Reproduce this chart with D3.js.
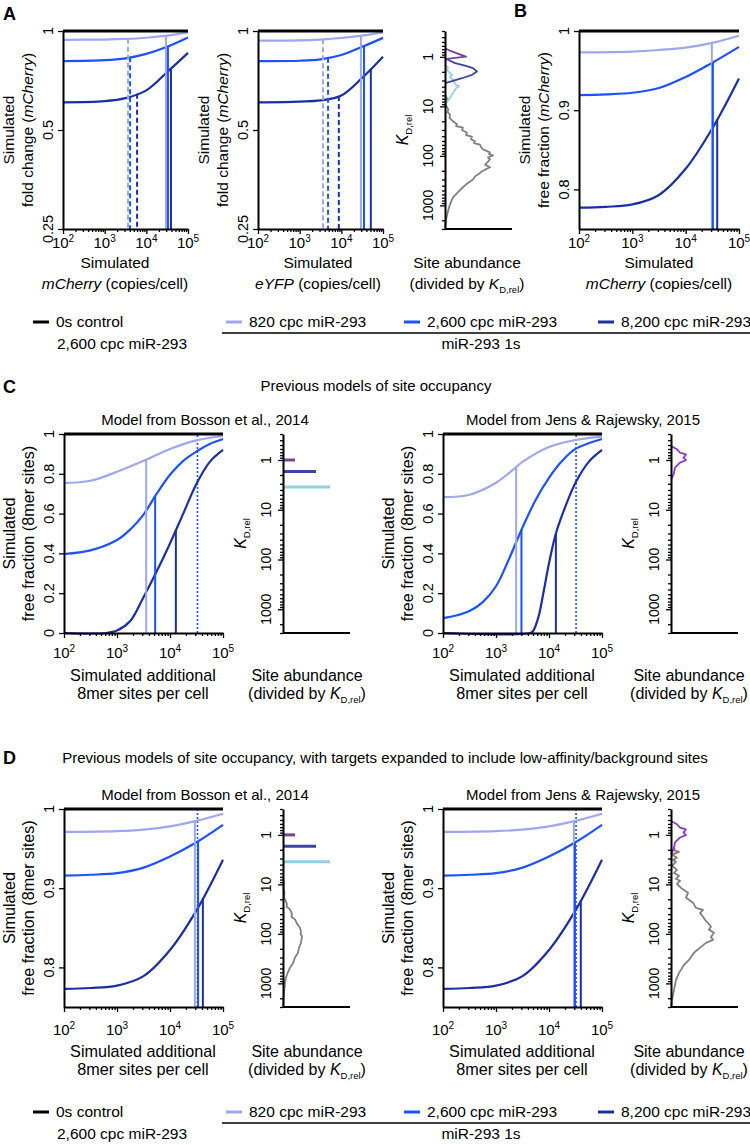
<!DOCTYPE html>
<html><head><meta charset="utf-8">
<script src="https://cdn.jsdelivr.net/npm/d3@7"></script>
<style>body{margin:0;background:#fff}svg{display:block}</style>
</head><body>
<script>
// ---------------- DATA ----------------
// x ticks (copies per cell) and their exponent labels
const X_TICKS = [1e2, 1e3, 1e4, 1e5];
const X_TICK_EXP = ["2", "3", "4", "5"];
const KD_TICKS = [1, 10, 100, 1000];
const KD_TICK_LABELS = ["1", "10", "100", "1000"];
const KD_DOMAIN = [0.3, 3000];
const FOLD_TICKS = [0.25, 0.5, 1];
const FREE_TICKS = [0.8, 0.9, 1];
const FRAC_TICKS = [0, 0.2, 0.4, 0.6, 0.8, 1];

// 0s control (fold change / free fraction = 1)
const CONTROL = [[1e2, 1], [1e5, 1]];

// Panel A, mCherry reporter: [copies/cell, fold change]
const A1_820 = [[100,0.94],[1000,0.942],[3162,0.946],[10000,0.954],[31623,0.968],[100000,0.99]];
const A1_2600 = [[100,0.81],[1000,0.815],[3162,0.826],[10000,0.852],[31623,0.895],[100000,0.955]];
const A1_8200 = [[100,0.607],[1000,0.612],[3162,0.625],[10000,0.66],[31623,0.75],[100000,0.858]];
const A1_DASHED = [3630, 4070, 6000];
const A1_SOLID = [29500, 33000, 39000];
// Panel A, eYFP reporter
const A2_820 = [[100,0.935],[1000,0.937],[3162,0.942],[10000,0.952],[31623,0.968],[100000,0.99]];
const A2_2600 = [[100,0.81],[1000,0.812],[3162,0.82],[10000,0.845],[31623,0.895],[100000,0.953]];
const A2_8200 = [[100,0.607],[1000,0.61],[3162,0.615],[10000,0.637],[31623,0.72],[100000,0.835]];
const A2_DASHED = [3630, 4800, 8700];
const A2_SOLID = [29500, 35000, 51000];

// Panel A site distributions: [K_D,rel, abundance (a.u.)]
const A_KD_8MER = [[0.67,0],[0.75,5],[0.85,12],[0.99,21],[1.05,10],[1.1,2],[1.13,0]];
const A_KD_7M8 = [[1.06,0],[1.2,5],[1.34,10],[1.5,20],[1.69,28],[1.97,32],[2.3,27],[2.7,17],[3.1,7],[3.4,0]];
const A_KD_7A1 = [[1.45,0],[1.65,3],[1.85,2],[2.1,5],[2.35,7],[2.6,5],[2.9,8],[3.4,10],[3.7,11],[3.95,14],[4.3,11],[4.6,10],[5.4,8],[6.2,6],[6.8,5],[8.1,2],[9.2,0]];
const A_KD_OTHER = [[5.8,0],[7.3,2.7],[9.2,0.7],[11.6,3.3],[13,2.5],[14.7,5],[17,4.5],[20,8],[23,12],[25,11],[27,18],[30,17],[34,22],[38,21],[41,27],[46,26],[51,30],[55,29],[59,35],[66,36],[74,38],[80,42],[85,45],[92,44],[98,48],[108,43],[118,45],[130,43],[150,40],[170,45],[190,40],[205,37],[230,34],[260,30],[300,28],[330,25],[380,21],[430,18],[540,13],[690,8],[950,5],[1370,2.7],[2100,0.7],[2900,0]];

// Panel B: free fraction of mCherry
const B_820 = [[100,0.973],[1000,0.974],[3162,0.976],[10000,0.979],[31623,0.985],[100000,0.994]];
const B_2600 = [[100,0.919],[316,0.92],[1000,0.922],[3162,0.928],[10000,0.942],[31623,0.96],[100000,0.98]];
const B_8200 = [[100,0.777],[316,0.778],[1000,0.781],[3162,0.793],[10000,0.826],[31623,0.877],[100000,0.94]];
const B_SOLID = [31000, 32400, 39000];

// Panel C: Bosson et al. 2014 model
const CB_820 = [[100,0.754],[316,0.765],[1000,0.81],[3162,0.865],[10000,0.925],[31623,0.968],[100000,0.99]];
const CB_2600 = [[100,0.397],[316,0.415],[1000,0.467],[1778,0.52],[3162,0.595],[5623,0.7],[10000,0.795],[17783,0.865],[31623,0.912],[56234,0.95],[100000,0.975]];
const CB_8200 = [[100,0],[631,0],[1000,0.012],[1778,0.06],[3162,0.18],[5623,0.31],[10000,0.45],[17783,0.6],[31623,0.75],[56234,0.86],[100000,0.92]];
const CB_SOLID = [3550, 5250, 12900];
const CB_DOTTED = 33000;
// Panel C: Jens & Rajewsky 2015 model
const CJ_820 = [[100,0.683],[316,0.695],[1000,0.755],[2400,0.834],[3162,0.86],[10000,0.935],[31623,0.97],[100000,0.987]];
const CJ_2600 = [[100,0.075],[178,0.088],[316,0.11],[562,0.155],[1000,0.235],[1778,0.375],[3162,0.53],[5623,0.67],[10000,0.78],[17783,0.865],[31623,0.925],[100000,0.975]];
const CJ_8200 = [[100,0],[4467,0],[5012,0.01],[6310,0.08],[7943,0.21],[10000,0.35],[13490,0.5],[21380,0.65],[32359,0.76],[56234,0.86],[100000,0.92]];
const CJ_SOLID = [2400, 3020, 13490];
const CJ_DOTTED = 32400;

// Bosson site classes (8mer, 7mer-m8, 7mer-A1): [K_D,rel, abundance]
const BOSSON_SITES = [[1.0,12],[1.7,33],[3.5,47]];
// Jens & Rajewsky site distribution
const JR_SITES = [[0.525,0],[0.61,6],[0.71,9],[0.77,15],[0.9,12.5],[1.01,15],[1.13,9],[1.42,4],[1.93,2.7],[2.26,1],[2.4,0]];

// Panel D: expanded targets
const D_820 = [[100,0.971],[1000,0.972],[3162,0.974],[10000,0.978],[31623,0.985],[100000,0.994]];
const D_2600 = [[100,0.916],[316,0.917],[1000,0.919],[3162,0.926],[10000,0.94],[31623,0.958],[100000,0.98]];
const D_8200 = [[100,0.773],[316,0.774],[1000,0.777],[3162,0.789],[10000,0.822],[31623,0.872],[100000,0.936]];
const DB_SOLID = [29500, 33900, 41700];
const DB_DOTTED = 33000;
const DJ_SOLID = [29500, 30900, 39800];
const DJ_DOTTED = 32400;
const DB_BACKGROUND = [[7.2,0],[9,1],[12,0.5],[15,1.5],[18,1],[20,2],[25,4],[28,3.5],[32,7],[40,9],[45,8.5],[51,12],[62,14],[75,17],[90,18],[100,17.5],[110,19],[130,18.5],[150,18],[170,17],[190,16],[240,15],[300,12],[390,10],[480,7],[590,5],[760,3],[950,2],[1600,1],[3000,0]];
const DJ_BACKGROUND = [[1.83,4],[2.0,2],[2.2,8],[2.5,1],[2.9,6],[3.2,2],[3.5,5],[4.2,1],[5.1,6],[5.9,3],[6.7,8],[7.7,5],[8.5,9],[9.8,6],[11.8,10],[14.8,17],[18.7,15],[23.6,22],[29.8,25],[32.9,32],[38,29],[45,32],[52,34],[60,37],[72,40],[82,38],[95,43],[115,40],[132,42],[152,35],[183,30],[241,23],[336,18],[423,13],[614,8],[852,5],[1350,3],[2150,1],[2970,0]];

// Legend
const LEGEND_LABELS = ["0s control", "820 cpc miR-293", "2,600 cpc miR-293", "8,200 cpc miR-293"];
const LEGEND_SUB = ["2,600 cpc miR-293", "miR-293 1s"];

// ---------------- STYLE ----------------
const FONT = "'Liberation Sans', Arial, Helvetica, sans-serif";
const COL = {ctrl:"#000000", c820:"#9ea6f0", c2600:"#1b52ff", c8200:"#1a2fa6",
  s8:"#7d3f9c", s7m8:"#3c459e", s7a1:"#94d0e3", other:"#808080", jr:"#8a3ad2"};
const SER_COLS = [COL.c820, COL.c2600, COL.c8200];
const BAR_COLS = [COL.s8, COL.s7m8, COL.s7a1];

const svg = d3.select("body").append("svg").attr("width", 750).attr("height", 1145);

function addText(g, x, y, parts, o = {}) {
  const t = g.append("text").attr("x", x).attr("y", y)
    .attr("font-family", FONT).attr("font-size", o.size || 15)
    .attr("text-anchor", o.anchor || "middle").attr("fill", "#000");
  if (o.transform) t.attr("transform", o.transform);
  if (o.weight) t.attr("font-weight", o.weight);
  (typeof parts === "string" ? [{t: parts}] : parts).forEach(p => {
    const s = t.append("tspan").text(p.t);
    if (p.i) s.attr("font-style", "italic");
    if (p.sub) s.attr("font-size", 9.5).attr("dy", 4);
    if (p.sup) s.attr("font-size", 10).attr("dy", -6);
    if (p.back) s.attr("dy", p.back);
  });
  return t;
}

function valAt(s, c) {
  const l = Math.log10(c);
  for (let i = 0; i < s.length - 1; i++) {
    const a = Math.log10(s[i][0]), b = Math.log10(s[i + 1][0]);
    if (l >= a && l <= b) return s[i][1] + (s[i + 1][1] - s[i][1]) * (l - a) / (b - a);
  }
  return s[s.length - 1][1];
}
const isPow10 = v => Math.abs(Math.log10(v) - Math.round(Math.log10(v))) < 1e-9;

function styleAxis(sel) {
  sel.selectAll(".domain").attr("stroke", "#000").attr("stroke-width", 2);
  sel.selectAll(".tick line").attr("stroke", "#000").attr("stroke-width", 1.3);
}

function mainPlot(c) {
  const g = svg.append("g");
  const fs = c.fs || 15.5;
  const x = d3.scaleLog().domain([1e2, 1e5]).range([c.x0, c.x1]);
  const y = (c.ylog ? d3.scaleLog().base(2) : d3.scaleLinear()).domain(c.yDomain).range([c.y1, c.y0]);
  const line = d3.line().x(d => x(d[0])).y(d => y(d[1])).curve(d3.curveCatmullRom.alpha(0.5));
  if (c.dotted) g.append("line").attr("x1", x(c.dotted)).attr("x2", x(c.dotted))
    .attr("y1", y(c.yDomain[0])).attr("y2", y(1)).attr("stroke", COL.c2600)
    .attr("stroke-width", 1.6).attr("stroke-dasharray", "2,2");
  c.series.forEach((s, i) => g.append("path").attr("d", line(s)).attr("fill", "none")
    .attr("stroke", SER_COLS[i]).attr("stroke-width", 2.2));
  const vl = (arr, dash) => arr.forEach((v, i) => g.append("line")
    .attr("x1", x(v)).attr("x2", x(v)).attr("y1", y(valAt(c.series[i], v))).attr("y2", y(c.yDomain[0]))
    .attr("stroke", SER_COLS[i]).attr("stroke-width", 2).attr("stroke-dasharray", dash || null));
  if (c.dashed) vl(c.dashed, "5,3");
  if (c.solid) vl(c.solid);
  g.append("path").attr("d", d3.line().x(d => x(d[0])).y(d => y(d[1]))(CONTROL))
    .attr("stroke", COL.ctrl).attr("stroke-width", 3).attr("fill", "none");
  // x axis
  const ax = g.append("g").attr("transform", `translate(0,${c.y1})`);
  ax.call(d3.axisBottom(x).tickValues(X_TICKS).tickSize(5).tickSizeOuter(0).tickFormat(""));
  ax.append("g").call(d3.axisBottom(x).tickValues(x.ticks().filter(v => !isPow10(v)))
    .tickSize(3).tickSizeOuter(0).tickFormat("")).select(".domain").remove();
  styleAxis(ax);
  X_TICKS.forEach((v, i) => addText(g, x(v), c.y1 + c.tickOff, [{t: "10"}, {t: X_TICK_EXP[i], sup: true}], {size: 15}));
  // y axis
  const ay = g.append("g").attr("transform", `translate(${c.x0},0)`);
  ay.call(d3.axisLeft(y).tickValues(c.yTicks).tickSize(5).tickSizeOuter(0).tickFormat(""));
  styleAxis(ay);
  c.yTicks.forEach(v => addText(g, 0, 0, String(v), {size: 14.5, transform: `translate(${c.x0 - 10},${y(v)}) rotate(-90)`}));
  const cy = (c.y0 + c.y1) / 2;
  addText(g, 0, 0, c.yTitle[0], {size: fs, transform: `translate(${c.x0 - 49},${cy}) rotate(-90)`});
  addText(g, 0, 0, c.yTitle[1], {size: fs, transform: `translate(${c.x0 - 30},${cy}) rotate(-90)`});
  addText(g, c.cx, c.y1 + c.titleOff[0], c.xTitle[0], {size: fs});
  addText(g, c.cx, c.y1 + c.titleOff[1], c.xTitle[1], {size: fs});
}

function kdPlot(c) {
  const g = svg.append("g");
  const fs = c.fs || 15.5;
  const y = d3.scaleLog().domain(KD_DOMAIN).range([c.y0, c.y1]);
  const x = d3.scaleLinear().domain([0, 66]).range([c.x0, c.x0 + 66]);
  const line = d3.line().x(d => x(d[1])).y(d => y(d[0]));
  (c.dists || []).forEach(d => g.append("path").attr("d", line(d.data)).attr("fill", "none")
    .attr("stroke", d.color).attr("stroke-width", 1.8).attr("stroke-linejoin", "round"));
  (c.bars || []).forEach((b, i) => g.append("line").attr("x1", x(0)).attr("x2", x(b[1]))
    .attr("y1", y(b[0])).attr("y2", y(b[0])).attr("stroke", BAR_COLS[i]).attr("stroke-width", 3));
  const ay = g.append("g").attr("transform", `translate(${c.x0},0)`);
  ay.call(d3.axisLeft(y).tickValues(KD_TICKS).tickSize(5).tickSizeOuter(0).tickFormat(""));
  ay.append("g").call(d3.axisLeft(y).tickValues(y.ticks().filter(v => !isPow10(v)))
    .tickSize(3).tickSizeOuter(0).tickFormat("")).select(".domain").remove();
  styleAxis(ay);
  g.append("line").attr("x1", c.x0).attr("x2", c.x0 + 67).attr("y1", c.y1).attr("y2", c.y1)
    .attr("stroke", "#000").attr("stroke-width", 2);
  KD_TICKS.forEach((v, i) => addText(g, 0, 0, KD_TICK_LABELS[i], {size: 14, transform: `translate(${c.x0 - 12},${y(v)}) rotate(-90)`}));
  addText(g, 0, 0, [{t: "K", i: true}, {t: "D,rel", sub: true}], {size: 16, transform: `translate(${c.x0 - 37},${(c.y0 + c.y1) / 2}) rotate(-90)`});
  addText(g, c.cx, c.y1 + c.titleOff[0], "Site abundance", {size: fs});
  addText(g, c.cx, c.y1 + c.titleOff[1], [{t: "(divided by "}, {t: "K", i: true}, {t: "D,rel", sub: true}, {t: ")", back: -4}], {size: fs});
}

const T_SIM = [{t: "Simulated"}];
const T_FOLD = [{t: "fold change ("}, {t: "mCherry", i: true}, {t: ")"}];
const T_FREE_MC = [{t: "free fraction ("}, {t: "mCherry", i: true}, {t: ")"}];
const T_FREE_8 = [{t: "free fraction (8mer sites)"}];
const T_ADD = [[{t: "Simulated additional"}], [{t: "8mer sites per cell"}]];

// ---------------- PANEL A ----------------
mainPlot({x0: 63, x1: 188, y0: 31, y1: 229, ylog: true, yDomain: [0.25, 1], yTicks: FOLD_TICKS,
  series: [A1_820, A1_2600, A1_8200], dashed: A1_DASHED, solid: A1_SOLID, tickOff: 19, titleOff: [39, 60], cx: 115,
  xTitle: [T_SIM, [{t: "mCherry", i: true}, {t: " (copies/cell)"}]], yTitle: [T_SIM, T_FOLD]});
mainPlot({x0: 258, x1: 383, y0: 31, y1: 229, ylog: true, yDomain: [0.25, 1], yTicks: FOLD_TICKS,
  series: [A2_820, A2_2600, A2_8200], dashed: A2_DASHED, solid: A2_SOLID, tickOff: 19, titleOff: [39, 60], cx: 318,
  xTitle: [T_SIM, [{t: "eYFP", i: true}, {t: " (copies/cell)"}]], yTitle: [T_SIM, T_FOLD]});
kdPlot({x0: 445, y0: 31, y1: 229, cx: 467, titleOff: [39, 60],
  dists: [{data: A_KD_OTHER, color: COL.other}, {data: A_KD_7A1, color: COL.s7a1}, {data: A_KD_7M8, color: COL.s7m8}, {data: A_KD_8MER, color: COL.s8}]});
// ---------------- PANEL B ----------------
mainPlot({x0: 579, x1: 739, y0: 31, y1: 229, ylog: false, yDomain: [0.75, 1], yTicks: FREE_TICKS,
  series: [B_820, B_2600, B_8200], solid: B_SOLID, tickOff: 19, titleOff: [39, 60], cx: 659,
  xTitle: [T_SIM, [{t: "mCherry", i: true}, {t: " (copies/cell)"}]], yTitle: [T_SIM, T_FREE_MC]});
// ---------------- PANEL C ----------------
mainPlot({x0: 64, x1: 223, y0: 434, y1: 633, ylog: false, yDomain: [0, 1], yTicks: FRAC_TICKS, fs: 16.2,
  series: [CB_820, CB_2600, CB_8200], solid: CB_SOLID, dotted: CB_DOTTED, tickOff: 25, titleOff: [48, 66], cx: 143,
  xTitle: T_ADD, yTitle: [T_SIM, T_FREE_8]});
kdPlot({x0: 283, y0: 434, y1: 633, cx: 307, titleOff: [48, 66], fs: 16, bars: BOSSON_SITES});
mainPlot({x0: 443, x1: 602, y0: 434, y1: 633, ylog: false, yDomain: [0, 1], yTicks: FRAC_TICKS, fs: 16.2,
  series: [CJ_820, CJ_2600, CJ_8200], solid: CJ_SOLID, dotted: CJ_DOTTED, tickOff: 25, titleOff: [48, 66], cx: 522,
  xTitle: T_ADD, yTitle: [T_SIM, T_FREE_8]});
kdPlot({x0: 671, y0: 434, y1: 633, cx: 689, titleOff: [48, 66], fs: 16, dists: [{data: JR_SITES, color: COL.jr}]});
// ---------------- PANEL D ----------------
mainPlot({x0: 64, x1: 223, y0: 809, y1: 1007, ylog: false, yDomain: [0.75, 1], yTicks: FREE_TICKS, fs: 16.2,
  series: [D_820, D_2600, D_8200], solid: DB_SOLID, dotted: DB_DOTTED, tickOff: 28, titleOff: [50, 68], cx: 143,
  xTitle: T_ADD, yTitle: [T_SIM, T_FREE_8]});
kdPlot({x0: 283, y0: 809, y1: 1007, cx: 307, titleOff: [50, 68], fs: 16, bars: BOSSON_SITES,
  dists: [{data: DB_BACKGROUND, color: COL.other}]});
mainPlot({x0: 443, x1: 602, y0: 809, y1: 1007, ylog: false, yDomain: [0.75, 1], yTicks: FREE_TICKS, fs: 16.2,
  series: [D_820, D_2600, D_8200], solid: DJ_SOLID, dotted: DJ_DOTTED, tickOff: 28, titleOff: [50, 68], cx: 522,
  xTitle: T_ADD, yTitle: [T_SIM, T_FREE_8]});
kdPlot({x0: 671, y0: 809, y1: 1007, cx: 689, titleOff: [50, 68], fs: 16,
  dists: [{data: DJ_BACKGROUND, color: COL.other}, {data: JR_SITES, color: COL.jr}]});

// ---------------- TITLES ----------------
const hdr = svg.append("g");
addText(hdr, 3, 20, "A", {size: 18, weight: "bold", anchor: "start"});
addText(hdr, 514, 17, "B", {size: 18, weight: "bold", anchor: "start"});
addText(hdr, 3, 393, "C", {size: 18, weight: "bold", anchor: "start"});
addText(hdr, 3, 764, "D", {size: 18, weight: "bold", anchor: "start"});
addText(hdr, 376, 391, "Previous models of site occupancy", {size: 15});
addText(hdr, 385, 763, "Previous models of site occupancy, with targets expanded to include low-affinity/background sites", {size: 15});
[425, 800].forEach(yb => {
  addText(hdr, 205, yb, "Model from Bosson et al., 2014", {size: 15});
  addText(hdr, 583, yb, "Model from Jens & Rajewsky, 2015", {size: 15});
});

// ---------------- LEGENDS ----------------
function legend(yb) {
  const g = svg.append("g");
  const sw = [33, 226, 404, 598];
  const cols = [COL.ctrl, COL.c820, COL.c2600, COL.c8200];
  LEGEND_LABELS.forEach((lab, i) => {
    g.append("line").attr("x1", sw[i]).attr("x2", sw[i] + 16).attr("y1", yb - 5).attr("y2", yb - 5)
      .attr("stroke", cols[i]).attr("stroke-width", 3);
    addText(g, sw[i] + 23, yb, lab, {size: 15.5, anchor: "start"});
  });
  g.append("line").attr("x1", 222).attr("x2", 750).attr("y1", yb + 6).attr("y2", yb + 6)
    .attr("stroke", "#000").attr("stroke-width", 1.6);
  addText(g, 57, yb + 22, LEGEND_SUB[0], {size: 15.5, anchor: "start"});
  addText(g, 481, yb + 22, LEGEND_SUB[1], {size: 15.5});
}
legend(327);
legend(1117);
</script>
</body></html>
